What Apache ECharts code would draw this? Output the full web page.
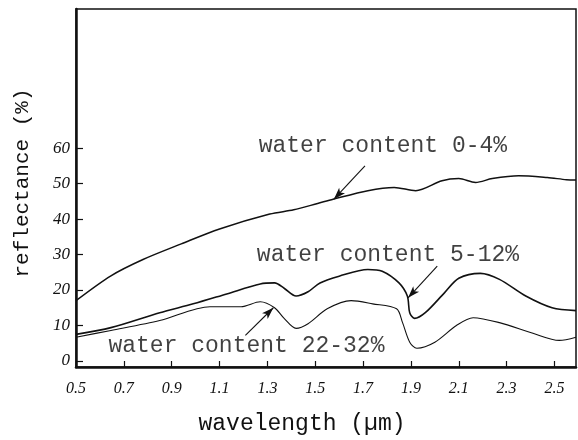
<!DOCTYPE html>
<html>
<head>
<meta charset="utf-8">
<script src="https://cdn.jsdelivr.net/npm/echarts@6/dist/echarts.min.js"></script>
<style>html,body{margin:0;padding:0;background:#fff}#c{width:578px;height:440px}</style>
</head>
<body>
<div id="c"></div>
<script>
// wavelength (µm) and reflectance (%)
const wlDry = [0.50, 0.646, 0.78, 0.94, 1.10, 1.31, 1.41, 1.51, 1.575, 1.72, 1.83, 1.92, 2.03, 2.10, 2.17, 2.24, 2.35, 2.47, 2.55, 2.59];
const rDry  = [17.0, 24.0, 28.6, 33.0, 37.2, 41.4, 42.6, 44.4, 45.6, 48.0, 48.9, 48.0, 50.8, 51.4, 50.3, 51.4, 52.2, 51.7, 51.1, 51.0];

const wlMid = [0.50, 0.646, 0.85, 0.99, 1.13, 1.27, 1.33, 1.37, 1.42, 1.47, 1.52, 1.60, 1.72, 1.78, 1.85, 1.885, 1.895, 1.915, 1.96, 2.04, 2.10, 2.19, 2.27, 2.38, 2.49, 2.59];
const rMid  = [7.5, 9.4, 13.6, 16.1, 18.9, 21.7, 22.0, 20.5, 18.3, 19.5, 22.0, 23.9, 25.8, 25.3, 22.0, 18.3, 13.6, 12.0, 13.6, 19.2, 23.3, 24.7, 23.0, 18.3, 15.0, 14.2];

const wlWet = [0.50, 0.646, 0.85, 1.06, 1.19, 1.27, 1.33, 1.37, 1.42, 1.47, 1.55, 1.65, 1.74, 1.84, 1.865, 1.895, 1.925, 2.00, 2.09, 2.16, 2.27, 2.41, 2.52, 2.59];
const rWet  = [6.7, 8.6, 11.4, 15.3, 15.3, 16.7, 15.0, 12.0, 9.2, 10.5, 14.7, 17.0, 16.1, 14.7, 10.8, 5.3, 3.6, 5.3, 10.0, 12.2, 10.8, 7.8, 5.8, 6.7];

const xTicks = [0.5, 0.7, 0.9, 1.1, 1.3, 1.5, 1.7, 1.9, 2.1, 2.3, 2.5];
const yTicks = [0, 10, 20, 30, 40, 50, 60];

const labelNames = ['water content 0-4%', 'water content 5-12%', 'water content 22-32%'];
const labelAt = [[1.783, 60.6], [1.804, 30.0], [1.2125, 4.2]];
const arrows = [
  [[1.708, 55.0], [1.578, 45.6]],
  [[2.010, 26.7], [1.888, 17.8]],
  [[1.208, 7.2], [1.325, 15.0]]
];

const zip = (a, b) => a.map((v, i) => [v, b[i]]);
const mono = 'Liberation Mono, DejaVu Sans Mono, monospace';
const serif = 'Liberation Serif, DejaVu Serif, serif';

const chart = echarts.init(document.getElementById('c'), null, {renderer: 'canvas'});
chart.setOption({
  animation: false,
  backgroundColor: '#fff',
  grid: {left: 76, right: 2, top: 9, bottom: 68, show: true, borderColor: '#111', borderWidth: 1.5},
  xAxis: {
    type: 'value', min: 0.5, max: 2.59,
    name: 'wavelength (µm)', nameLocation: 'middle', nameGap: 45,
    nameTextStyle: {fontFamily: mono, fontSize: 23, color: '#111', padding: [0, 48, 0, 0]},
    axisLine: {show: true, onZero: false, lineStyle: {color: '#111', width: 2.5}},
    axisTick: {show: true, inside: true, length: 6, customValues: xTicks, lineStyle: {color: '#111', width: 1.2}},
    axisLabel: {customValues: xTicks, margin: 14, fontFamily: serif, fontStyle: 'italic', fontSize: 16, color: '#111',
      formatter: v => v.toFixed(1)},
    splitLine: {show: false}
  },
  yAxis: {
    type: 'value', min: -1.7, max: 99.2,
    name: 'reflectance (%)', nameLocation: 'middle', nameGap: 43, nameRotate: 90,
    nameTextStyle: {fontFamily: mono, fontSize: 21, color: '#111', padding: [0, 0, 0, 10]},
    axisLine: {show: true, onZero: false, lineStyle: {color: '#111', width: 2.5}},
    axisTick: {show: true, inside: true, length: 7, customValues: yTicks, lineStyle: {color: '#111', width: 1.2}},
    axisLabel: {customValues: yTicks, margin: 6, fontFamily: serif, fontStyle: 'italic', fontSize: 17, color: '#111'},
    splitLine: {show: false}
  },
  series: [
    {type: 'line', data: zip(wlDry, rDry), smooth: 0.3, showSymbol: false, lineStyle: {color: '#111', width: 1.5}},
    {type: 'line', data: zip(wlMid, rMid), smooth: 0.3, showSymbol: false, lineStyle: {color: '#111', width: 1.6}},
    {type: 'line', data: zip(wlWet, rWet), smooth: 0.3, showSymbol: false, lineStyle: {color: '#111', width: 1.1},
      markLine: {
        silent: true, symbol: ['none', 'arrow'], symbolSize: [6, 12],
        lineStyle: {color: '#111', width: 1.1, type: 'solid'}, label: {show: false},
        data: arrows.map(a => [{coord: a[0]}, {coord: a[1]}])
      }},
    {type: 'scatter', symbolSize: 0, silent: true,
      data: labelAt.map((p, i) => ({value: p, name: labelNames[i]})),
      label: {show: true, position: 'inside', formatter: p => p.name, fontFamily: mono, fontSize: 23, color: '#111'}}
  ]
});
</script>
</body>
</html>
